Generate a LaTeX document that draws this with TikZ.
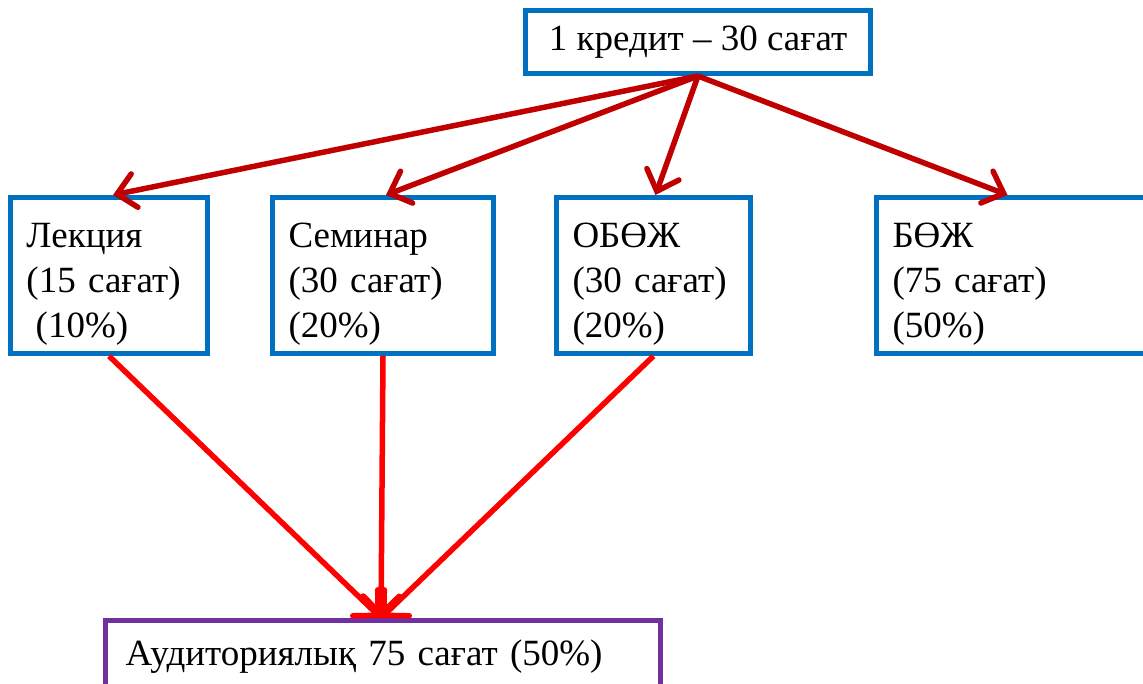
\documentclass[tikz,border=0pt]{standalone}
\usepackage{fontspec}
\setmainfont{Liberation Serif}
\usetikzlibrary{arrows.meta}
\definecolor{boxblue}{HTML}{0070C0}
\definecolor{boxpurple}{HTML}{7030A0}
\definecolor{darkred}{HTML}{C00000}
\definecolor{brightred}{HTML}{FF0000}

\begin{document}
\begin{tikzpicture}[x=1pt,y=-1pt,
  box/.style={draw=boxblue, line width=5pt, fill=white, inner xsep=16pt,
    align=left, font=\fontsize{37}{45}\selectfont, anchor=north west},
  topline/.style={draw=darkred, line width=5.5pt, -{Straight Barb[length=18pt,width=34pt,line cap=round]}},
  botline/.style={draw=brightred, line width=5.5pt, -{Straight Barb[length=18pt,width=36pt,line cap=round]}}]
\useasboundingbox (0,0) rectangle (1143,684);
\coordinate (t) at (523,8);
\coordinate (l) at (8,195);
\coordinate (s) at (270,195);
\coordinate (o) at (554,195);
\coordinate (b) at (874,195);
\coordinate (a) at (103,618);
\node[box, minimum width=345pt, minimum height=63pt, align=center] (top) at (t) {1 кредит – 30 сағат};
\node[box, minimum width=197pt, minimum height=156pt, text width=165pt] (lek) at (l) {\rule{0pt}{42pt}Лекция\\(15 сағат)\\\hspace*{0.25em}(10\%)};
\node[box, minimum width=221pt, minimum height=156pt, text width=189pt] (sem) at (s) {\rule{0pt}{42pt}Семинар\\(30 сағат)\\(20\%)};
\node[box, minimum width=194pt, minimum height=156pt, text width=162pt] (obozh) at (o) {\rule{0pt}{42pt}ОБӨЖ\\(30 сағат)\\(20\%)};
\node[box, minimum width=290pt, minimum height=156pt, text width=258pt] (bozh) at (b) {\rule{0pt}{42pt}БӨЖ\\(75 сағат)\\(50\%)};
\node[box, draw=boxpurple, inner xsep=20pt, minimum width=555pt, minimum height=72pt, text width=515pt] (aud) at (a) {Аудиториялық 75 сағат (50\%)};
\draw[topline] (top.south) -- ([xshift=4pt]lek.north);
\draw[topline] (top.south) -- ([xshift=3pt]sem.north);
\draw[topline] (top.south) -- ([xshift=2pt]obozh.north);
\draw[topline] (top.south) -- ([xshift=-14pt]bozh.north);
\draw[botline] (lek.south) -- ([xshift=-2pt]aud.north);
\draw[botline] (sem.south) -- ([xshift=-2pt]aud.north);
\draw[botline] (obozh.south) -- ([xshift=-2pt]aud.north);
\end{tikzpicture}
\end{document}
